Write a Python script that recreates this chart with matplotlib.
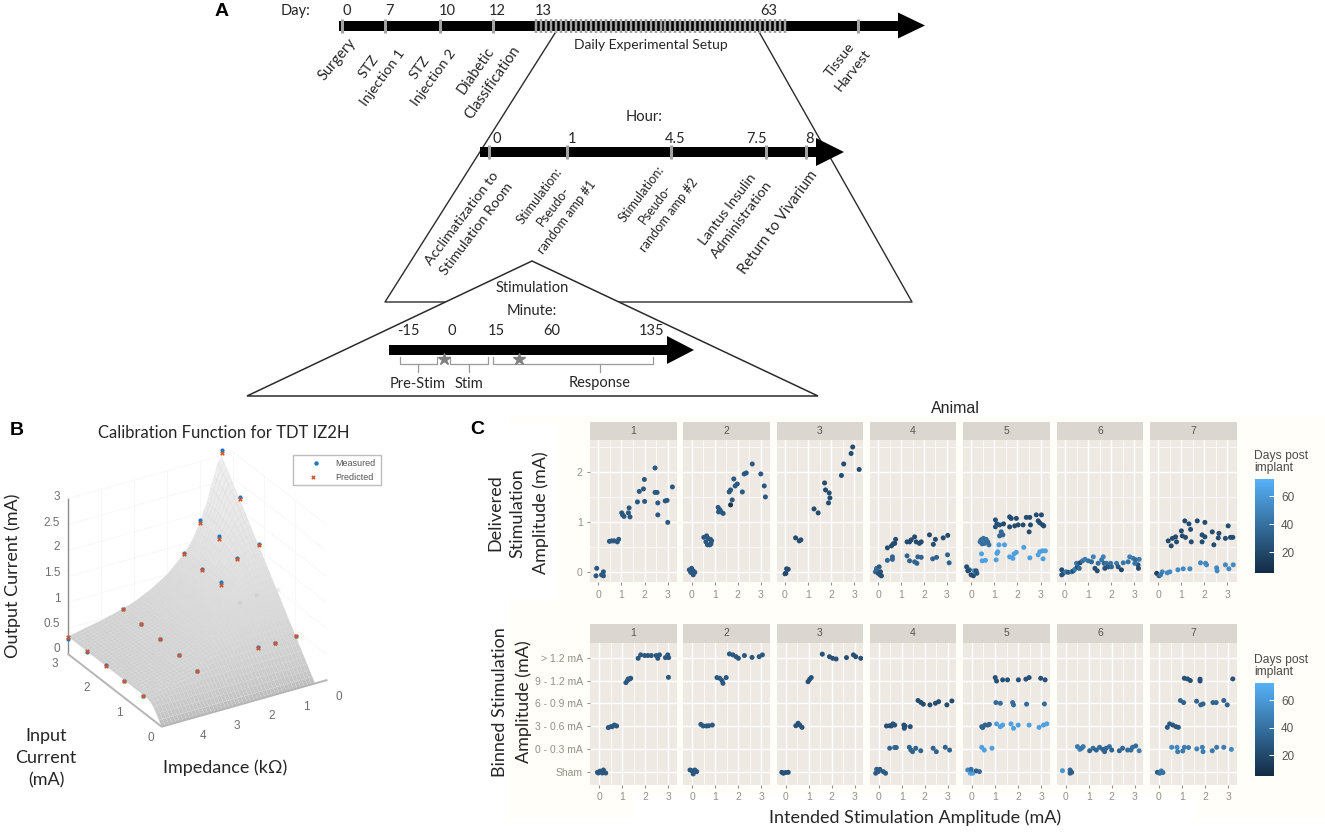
import numpy as np
import matplotlib
matplotlib.use("Agg")
import matplotlib.pyplot as plt
from matplotlib.colors import LinearSegmentedColormap, Normalize
from matplotlib.cm import ScalarMappable
from matplotlib.patches import Rectangle, Polygon
from mpl_toolkits.mplot3d import proj3d

W, H = 1325, 834
FONT = "Lato"
GG = "Liberation Sans"

# ---------- Panel A timeline content ----------
day_labels = ["0", "7", "10", "12", "13", "63"]
hour_labels = ["0", "1", "4.5", "7.5", "8"]
minute_labels = ["-15", "0", "15", "60", "135"]

# ---------- Panel B data ----------
cal_input = [3.0, 2.4, 1.8, 1.2, 0.6]
cal_imp_rows = [0.35, 1.0, 1.5, 3.35, 5.0]
cal_pred_row1 = [3.05, 2.43, 1.83, 1.26, 0.63]
cal_pred_row2 = [1.81, 1.79, 1.68, 1.26, 0.61]
cal_pred_row3 = [1.30, 1.27, 1.27, 1.20, 0.61]
cal_pred_row4 = [0.58, 0.56, 0.55, 0.53, 0.49]
cal_pred_row5 = [0.34, 0.34, 0.34, 0.33, 0.31]
cal_meas_row1 = [3.10, 2.47, 1.85, 1.27, 0.64]
cal_meas_row2 = [1.87, 1.84, 1.70, 1.27, 0.62]
cal_meas_row3 = [1.32, 1.30, 1.32, 1.21, 0.62]
cal_meas_row4 = [0.58, 0.56, 0.55, 0.53, 0.49]
cal_meas_row5 = [0.30, 0.32, 0.35, 0.33, 0.31]
sat_imp = [0.35, 0.5, 0.75, 1.0, 1.25, 1.5, 2.0, 2.5, 3.0, 3.35, 4.0, 4.5, 5.0]
sat_out = [5.0, 3.2, 2.3, 1.85, 1.5, 1.3, 1.0, 0.8, 0.65, 0.58, 0.47, 0.41, 0.34]

# ---------- Panel C: delivered amplitude ----------
t1_x = [-.07,-.1,.14,.22,.22,.48,.58,.68,.82,.88,1.01,1.11,1.05,1.3,1.33,1.37,1.69,1.77,1.95,1.99,2.0,2.45,2.45,2.54,2.57,2.57,2.89,2.97,3.0,3.2]
t1_y = [.08,-.07,-.05,.01,-.07,.62,.63,.63,.61,.66,1.19,1.12,1.15,1.19,1.29,1.11,1.41,1.62,1.67,1.86,1.42,2.09,1.6,1.6,1.15,1.39,1.43,1.44,1.0,1.71]
t1_d = [28]*30
t2_x = [-.1,0,.07,-.04,.14,.07,.53,.65,.72,.82,.62,.87,.69,.84,.79,1.15,1.23,1.17,1.37,1.28,1.63,1.69,1.76,1.69,1.83,1.98,1.89,2.2,2.28,2.37,2.63,3.0,3.15,3.2]
t2_y = [.05,.08,.03,0,0,-.05,.7,.73,.68,.66,.61,.63,.55,.57,.55,1.3,1.25,1.21,1.18,1.21,1.61,1.65,1.45,1.35,1.87,1.77,1.73,1.61,1.97,1.99,2.17,1.97,1.73,1.51]
t2_d = [28]*23 + [10] + [28]*10
t3_x = [.07,.14,.04,0,.46,.62,.69,1.26,1.44,1.72,1.76,1.92,1.95,1.89,2.45,2.55,2.87,2.94,3.22]
t3_y = [.07,.06,-.02,-.03,.69,.63,.65,1.27,1.19,1.79,1.65,1.59,1.49,1.39,1.94,2.17,2.38,2.51,2.06]
t3_d = [22]*19
t4_x = [-.07,.04,-.12,0,.07,-.07,.1,.14,.4,.58,.65,.72,.76,1.26,1.37,1.44,1.59,1.66,1.8,1.88,2.24,2.5,2.41,2.84,3.04,.4,.62,.62,1.26,1.37,1.59,1.69,1.73,1.88,2.38,2.55,3.03,3.1]
t4_y = [.08,.11,.01,-.02,-.05,.05,.01,-.07,.49,.53,.57,.58,.66,.61,.61,.65,.71,.61,.58,.61,.75,.66,.56,.69,.74,.24,.26,.31,.33,.23,.21,.18,.31,.3,.27,.3,.35,.19]
t4_d = [36,28,34,22,28,36,24,22] + [22]*17 + [34]*13
t5_x = [-.19,-.07,-.14,.14,.22,0,.1,.25,.43,.53,.65,.39,.58,.77,.48,.72,1.05,1.11,1.23,1.4,1.05,1.3,1.37,1.23,1.66,1.73,1.95,1.66,1.88,2.03,2.24,2.38,2.53,2.56,2.5,2.81,3.03,2.89,3.08,3.13,2.96,.45,.48,.62,1.08,1.15,1.11,1.2,1.44,1.66,1.8,1.95,1.85,2.27,2.53,2.89,2.96,3.1,3.07,3.2]
t5_y = [.11,.05,.03,.03,.03,-.05,-.07,-.02,.65,.68,.66,.61,.58,.55,.57,.61,1.05,.97,.95,.97,.91,.81,.75,.73,1.11,1.08,1.08,.91,.93,.95,.95,1.1,1.1,.95,.81,1.15,1.15,1.03,.95,.93,.99,.37,.23,.24,.25,.41,.38,.55,.55,.31,.28,.4,.37,.5,.29,.35,.41,.27,.43,.43]
t5_d = [22,32,22,50,28,22,22,28] + [40]*8 + [25,25,25,20,25,36,36,36] + [22]*17 + [64]*19
t6_x = [-.14,-.07,-.14,.04,.14,.29,.36,.43,.53,.62,.5,.65,.76,.87,1.01,1.15,1.23,1.3,1.4,1.44,1.59,1.66,1.7,1.8,1.88,1.98,1.73,2.02,2.24,2.31,2.45,2.53,2.81,2.74,2.96,3.07,3.17,3.19,3.03,3.22]
t6_y = [.05,-.02,-.05,.01,0,.01,.03,.06,.11,.08,.18,.19,.23,.26,.23,.21,.31,.08,.03,.18,.25,.31,.18,.18,.11,.18,.08,.11,.18,.11,.05,.19,.31,.21,.28,.25,.15,.08,.18,.26]
t6_d = [22,36,24,45,28,40,24,45,24,36,42,22,40,45,42,36,48,22,22,40,45,48,36,40,28,42,24,36,45,28,18,42,48,40,45,36,24,22,42,45]
t7_x = [.43,.61,.75,.56,.79,1.0,1.04,1.18,1.15,1.33,1.4,1.43,1.69,2.02,1.9,2.02,1.9,2.34,2.41,2.63,2.6,2.91,3.13,3.23,3.03,-.07,.03,.17,.1,.39,.5,.85,1.08,1.37,1.83,2.05,2.09,2.53,2.55,2.91,3.06,3.25]
t7_y = [.63,.68,.71,.53,.61,.83,.73,.7,1.03,.97,.86,.61,1.03,1.0,.75,.71,.61,.81,.55,.78,.69,.68,.7,.7,.93,-.02,-.07,.01,-.05,-.01,.01,.05,.07,.07,.19,.18,.15,.09,.03,.15,.07,.15]
t7_d = [22]*25 + [15,30,50,45] + [52]*13

# ---------- Panel C: binned amplitude ----------
b1_x = [-.07,.04,.19,-.03,.14,.29,.4,.51,.66,.76,.57,1.16,1.23,1.33,1.37,1.26,1.69,1.8,1.97,2.11,2.26,2.47,2.54,2.61,2.87,2.97,3.01,3.0]
b1_y = [0,.05,.1,-.03,-.03,-.03,1.95,1.99,2.06,2.02,1.99,3.91,4.0,4.07,4.1,4.07,4.97,5.12,5.09,5.09,5.09,5.09,4.97,5.12,5.0,5.12,5.0,4.14]
b1_d = [28]*28
b2_x = [-.1,0,.11,.04,.19,.37,.47,.61,.71,.87,1.07,1.19,1.29,1.33,1.47,1.61,1.76,1.9,2.0,2.26,2.59,2.9,3.04]
b2_y = [.1,.06,.1,-.07,.03,2.09,2.02,2.02,2.03,2.06,4.13,4.1,4.0,3.88,4.13,5.16,5.12,5.04,4.97,5.09,5.01,5.04,5.12]
b2_d = [28]*23
b3_x = [-.17,-.1,0,.11,.44,.54,.61,.71,.97,1.04,1.11,1.59,1.9,2.04,2.19,2.64,2.94,3.04,3.26]
b3_y = [0,-.04,-.01,0,2.03,2.14,2.06,1.96,3.95,4.05,4.13,5.15,5.04,4.97,4.94,5.0,5.12,5.04,4.97]
b3_d = [24]*19
b4_x = [-.14,-.1,.04,.19,.29,-.03,.33,.47,.61,.69,.54,1.09,1.11,1.37,1.14,.47,.69,.76,1.33,1.4,1.47,1.61,1.83,2.37,2.51,2.9,3.09,1.71,1.83,1.94,2.23,2.47,2.61,2.97,3.19]
b4_y = [-.04,.13,.13,.03,-.04,.03,2.02,2.03,2.11,2.06,2.02,2.06,1.92,1.99,2.02,1.05,1.08,1.08,1.09,.97,.9,1.05,.94,1.05,.9,1.09,.97,3.13,3.05,2.97,2.94,3.01,3.08,2.94,3.11]
b4_d = [30]*6 + [24]*9 + [34]*12 + [22]*8
b5_x = [-.17,-.06,.04,.19,.33,-.03,.43,.57,.69,.76,.47,.43,.54,.87,1.07,1.23,1.33,1.69,1.8,2.0,2.47,2.9,3.09,3.23,1.04,1.23,1.76,1.8,2.36,3.13,1.01,1.07,1.33,1.54,2.01,2.33,2.47,2.97,3.16]
b5_y = [.1,-.04,-.04,.06,.03,.13,1.99,2.06,2.06,2.09,1.95,1.09,.97,1.05,2.11,1.99,2.06,2.11,1.92,2.06,2.06,1.96,2.06,2.11,3.04,3.01,3.04,2.94,2.97,2.98,4.13,3.98,4.03,4.03,4.03,4.06,4.13,4.1,4.03]
b5_d = [50,64,64,30,36,40,34,34,34,34,34,64,64,64] + [64]*10 + [38]*6 + [24]*9
b6_x = [-.14,.19,.19,.26,.51,.61,.76,1.04,1.19,1.33,1.47,1.61,1.76,1.9,2.0,2.33,2.47,2.69,2.9,3.04,3.19,.69,1.69,2.83]
b6_y = [.07,.1,-.04,0,1.12,1.0,1.12,.94,1.05,.97,1.09,1.0,1.05,1.12,.97,.94,1.05,.97,1.09,1.15,.94,1.05,.9,.97]
b6_d = [58,35,35,30,44,50,44,34,38,34,38,34,36,40,34,34,36,38,38,38,46,42,34,38]
b7_x = [-.07,.03,.1,.17,.36,.46,.6,.74,.84,.55,.78,.81,1.03,1.1,1.28,1.64,1.88,1.91,2.31,2.5,2.81,3.14,.93,1.07,1.63,1.81,1.91,2.34,2.48,2.81,2.96,1.1,1.24,1.36,1.78,1.78,3.2]
b7_y = [0,-.04,.06,-.01,1.96,2.11,2.06,1.99,1.96,1.09,1.09,.9,.93,1.09,1.08,1.02,1.09,.9,.94,1.09,1.09,1.0,3.13,3.04,3.1,2.94,2.98,3.04,3.04,3.13,2.94,4.1,4.07,4.0,4.06,3.98,4.07]
b7_d = [28,40,45,40] + [28]*5 + [52,52,46,46,46,46,48,48,46,44,44,46,52] + [34]*9 + [24]*6

animals = ["1", "2", "3", "4", "5", "6", "7"]
binned_labels = ["Sham", "0 - 0.3 mA", "3 - 0.6 mA", "6 - 0.9 mA", "9 - 1.2 mA", "> 1.2 mA"]
top_x, top_y, top_d = [t1_x,t2_x,t3_x,t4_x,t5_x,t6_x,t7_x], [t1_y,t2_y,t3_y,t4_y,t5_y,t6_y,t7_y], [t1_d,t2_d,t3_d,t4_d,t5_d,t6_d,t7_d]
bot_x, bot_y, bot_d = [b1_x,b2_x,b3_x,b4_x,b5_x,b6_x,b7_x], [b1_y,b2_y,b3_y,b4_y,b5_y,b6_y,b7_y], [b1_d,b2_d,b3_d,b4_d,b5_d,b6_d,b7_d]

fig = plt.figure(figsize=(W/100, H/100), dpi=100, facecolor="white")

def rect(x0, y0, x1, y1, **kw):
    """axes from pixel box, y measured from the top"""
    return fig.add_axes([x0/W, 1-y1/H, (x1-x0)/W, (y1-y0)/H], **kw)

# ---- background tint behind panel C
bg = fig.add_axes([0, 0, 1, 1], zorder=-5)
bg.set_xlim(0, W); bg.set_ylim(H, 0); bg.axis("off")
CREAM = "#fffef8"
for x0, y0, x1, y1 in [(558, 416, W, 600), (508, 416, 558, 424), (508, 600, W, 612), (508, 612, 540, 790),
                       (540, 612, W, 795), (508, 790, 633, 820), (1198, 790, W, 820)]:
    bg.add_patch(Rectangle((x0, y0), x1-x0, y1-y0, fc=CREAM, ec="none"))

# ---- overlay for diagram and free text
ov = fig.add_axes([0, 0, 1, 1], zorder=10)
ov.set_xlim(0, W); ov.set_ylim(H, 0); ov.axis("off"); ov.patch.set_alpha(0)

def label(x, y, s, size=11, rot=0, color="#262626", family=FONT, **kw):
    ov.text(x, y, s, fontsize=size, rotation=rot, color=color, family=family, ha=kw.pop("ha", "center"),
            va=kw.pop("va", "center"), rotation_mode="anchor", linespacing=kw.pop("ls", 1.05), **kw)

def arrow(x0, x1, xt, y, half, head):
    ov.add_patch(Rectangle((x0, y-half), x1-x0, 2*half, fc="black", ec="none", zorder=3))
    ov.add_patch(Polygon([(x1, y-head), (xt, y), (x1, y+head)], fc="black", ec="none", zorder=3))

def ticks(xs, y, half, width=3.0, color="#a3a3a3"):
    for x in xs:
        ov.plot([x, x], [y-half, y+half], color=color, lw=width*0.72, solid_capstyle="butt", zorder=4)

LINE = "#2b2b2b"
# trapezoid and inner triangle
ov.plot([557, 385, 912, 758], [30, 302, 302, 30], color=LINE, lw=1.0, zorder=1)
ov.add_patch(Polygon([(532, 261), (247, 396), (818, 396)], fc="white", ec=LINE, lw=1.1, zorder=2))

# Day timeline
arrow(339, 898, 925, 25.5, 5, 13)
ticks([342, 385, 440, 493, 858], 25.5, 7)
ticks(np.linspace(536, 785, 51), 25.5, 7, width=2.5)
for x, s in zip([347, 390, 447, 497, 543, 769], day_labels):
    label(x, 11, s, 10.5)
label(296, 11, "Day:", 10.5)
label(651, 45, "Daily Experimental Setup", 10)
label(337.5, 59, "Surgery", 10.5, 50)
label(376, 72, "STZ\nInjection 1", 10.3, 54, ls=1.55)
label(426.5, 72.5, "STZ\nInjection 2", 10.3, 54, ls=1.55)
label(484, 76.5, "Diabetic\nClassification", 10.5, 55, ls=1.55)
label(846, 65, "Tissue\nHarvest", 10.3, 52, ls=1.5)

# Hour timeline
label(644, 117, "Hour:", 10.5)
arrow(480, 816, 844, 152, 5, 14)
ticks([489, 567, 671, 766, 806], 152, 7)
for x, s in zip([497, 572, 675, 757, 809], hour_labels):
    label(x, 139, s, 10.5)
label(469, 223.5, "Acclimatization to\nStimulation Room", 10.3, 53, ls=1.55)
label(553, 206.5, "Stimulation:\nPseudo-\nrandom amp #1", 9.2, 53, ls=1.5)
label(655.5, 204.5, "Stimulation:\nPseudo-\nrandom amp #2", 9.2, 53, ls=1.5)
label(735, 214.5, "Lantus Insulin\nAdministration", 10.3, 53, ls=1.55)
label(778, 222.5, "Return to Vivarium", 10.7, 54)

# Minute timeline
label(532, 288, "Stimulation", 10.5)
label(532, 311, "Minute:", 10.5)
arrow(389, 667, 694, 350, 5, 14)
for x, s in zip([408, 452, 496, 552, 652], minute_labels):
    label(x, 331, s, 10.5)
BR = "#9a9a9a"
for x0, x1, xm in [(400, 437, 418), (450, 488, 469), (493, 653, 600)]:
    ov.plot([x0, x0, x1, x1], [357, 364, 364, 357], color=BR, lw=0.9, zorder=3)
    ov.plot([xm, xm], [364, 372], color=BR, lw=0.9, zorder=3)
for x in [443.5, 518.5]:
    ov.plot([x], [359], marker="*", ms=9, color="#808080", zorder=5, ls="none")
label(418, 384, "Pre-Stim", 10.5)
label(469, 384, "Stim", 10.5)
label(600, 383, "Response", 10.5)

# Panel letters and shared labels
label(222, 11, "A", 14, color="black", family="Liberation Sans", fontweight="bold")
label(17, 430, "B", 14, color="black", family="Liberation Sans", fontweight="bold")
label(477, 429, "C", 14, color="black", family="Liberation Sans", fontweight="bold")
label(224, 433, "Calibration Function for TDT IZ2H", 12)
label(955, 408, "Animal", 11.5, family=GG)
label(915, 818, "Intended Stimulation Amplitude (mA)", 13)
label(518, 513, "Delivered\nStimulation\nAmplitude (mA)", 13, 90, ls=1.5)
label(512, 702, "Binned Stimulation\nAmplitude (mA)", 13, 90, ls=1.5)
label(13, 576, "Output Current (mA)", 13, 90)
label(46, 758, "Input\nCurrent\n(mA)", 13, ls=1.45)
label(225, 768, "Impedance (kΩ)", 13)

# ---- Panel B
ax3 = fig.add_axes([0, 0, 0.34, 0.54], projection="3d", computed_zorder=False, zorder=1)
ax3.patch.set_alpha(0)
ax3.set_axis_off()
ax3.set_proj_type("ortho")
ax3.view_init(elev=27.9, azim=148.9)
ax3.set_xlim(0, 3); ax3.set_ylim(0, 5); ax3.set_zlim(0, 3)
ax3.set_box_aspect((543, 578, 529))

inp = np.linspace(0.001, 3, 36)
imp = np.linspace(sat_imp[0], sat_imp[-1], 44)
II, PP = np.meshgrid(inp, imp)
SS = np.interp(PP, sat_imp, sat_out)
ZZ = (II**-6 + SS**-6)**(-1/6)
shade = 0.75 + 0.19*np.clip(ZZ/3, 0, 1)**0.55
colors = np.dstack([shade, shade, shade, np.ones_like(shade)])
ax3.plot_surface(II, PP, ZZ, facecolors=colors, rstride=1, cstride=1, linewidth=0.2,
                 edgecolor="#d8d8d8", shade=False, antialiased=True, zorder=2)
AXC = "#8c8c8c"
GRID = "#f6f6f6"
for z in [0.5, 1, 1.5, 2, 2.5, 3]:
    ax3.plot([3, 3], [5, 0], [z, z], color=GRID, lw=0.6, zorder=1)
    ax3.plot([3, 0], [0, 0], [z, z], color=GRID, lw=0.6, zorder=1)
for p in [1, 2, 3, 4]:
    ax3.plot([3, 3], [p, p], [0, 3], color=GRID, lw=0.6, zorder=1)
for q in [1, 2]:
    ax3.plot([q, q], [0, 0], [0, 3], color=GRID, lw=0.6, zorder=1)
ax3.plot([3, 3], [0, 0], [0, 3], color=GRID, lw=0.6, zorder=1)
ax3.plot([3, 3], [5, 5], [0, 3], color=AXC, lw=1.0, zorder=3)
ax3.plot([3, 0, 0], [5, 5, 0], [0, 0, 0], color="#b5b5b5", lw=1.4, zorder=3)

pred_rows = [cal_pred_row1, cal_pred_row2, cal_pred_row3, cal_pred_row4, cal_pred_row5]
meas_rows = [cal_meas_row1, cal_meas_row2, cal_meas_row3, cal_meas_row4, cal_meas_row5]
hidden = {(0, 3), (1, 3), (2, 3)}
BLUE, ORANGE = "#1f78c1", "#d4552a"
for r, imp_v in enumerate(cal_imp_rows):
    for c, in_v in enumerate(cal_input):
        a = 0.05 if (r, c) in hidden else 1.0
        ax3.scatter([in_v], [imp_v], [meas_rows[r][c]], s=9, color=BLUE, alpha=a, lw=0, depthshade=False, zorder=5)
        ax3.scatter([in_v], [imp_v], [pred_rows[r][c]], s=11, color=ORANGE, marker="X", alpha=a, lw=0, depthshade=False, zorder=6)

def px3(x, y, z):
    X, Y, _ = proj3d.proj_transform(x, y, z, ax3.get_proj())
    return ax3.transData.transform((X, Y))

near_t = np.array([161.7, H-726.7])
left_t = np.array([68.3, H-654.3])
S = 450.0
ax3.set_position([0, 0, S/W, S/H])
fig.canvas.draw()
a, b = px3(0, 5, 0), px3(3, 5, 0)
S *= np.hypot(*(near_t-left_t))/np.hypot(*(a-b))
ax3.set_position([0, 0, S/W, S/H])
fig.canvas.draw()
a = px3(0, 5, 0)
ax3.set_position([(near_t[0]-a[0])/W, (near_t[1]-a[1])/H, S/W, S/H])

TK = "#6e6e6e"
for x, y, s in zip([57, 52, 57, 52, 57, 52, 57], [497, 523, 547, 573, 599, 624, 649], ["3", "2.5", "2", "1.5", "1", "0.5", "0"]):
    label(x, y, s, 8.5, color=TK, family=GG)
for x, y, s in zip([55, 87, 119, 151], [664, 688, 713, 738], ["3", "2", "1", "0"]):
    label(x, y, s, 8.5, color=TK, family=GG)
for x, y, s in zip([203, 237, 272, 306, 339], [736, 726, 716, 707, 697], ["4", "3", "2", "1", "0"]):
    label(x, y, s, 8.5, color=TK, family=GG)

# legend of panel B
ov.add_patch(Rectangle((293, 455), 88, 30, fc="white", ec="#bdbdbd", lw=1.0, zorder=6))
ov.plot([316], [463], ls="none", marker="o", ms=3.2, color=BLUE, mew=0, zorder=7)
ov.plot([313], [477], ls="none", marker="X", ms=3.2, color=ORANGE, mew=0, zorder=7)
label(355, 463, "Measured", 6.5, color="#555555", family=GG, zorder=7)
label(354, 477, "Predicted", 6.5, color="#555555", family=GG, zorder=7)

# ---- Panel C
cmap = LinearSegmentedColormap.from_list("gg", ["#132B43", "#56B1F7"])
DAY_MIN, DAY_MAX = 5.4, 72.1
norm = Normalize(DAY_MIN, DAY_MAX)
PANEL, STRIP = "#efe9e4", "#dcd6d0"
TICKC = "#978f88"
panel_x = [(590, 677), (683.3, 770), (776.7, 863.3), (870, 956), (962.7, 1050), (1056.7, 1143.3), (1150, 1236.7)]

def facet(i, box, strip_top, xs, ys, ds, ylim, yt, ytl, yminor, xshift):
    x0, x1 = panel_x[i]
    y0, y1 = box
    sp = rect(x0, strip_top, x1, y0, zorder=2)
    sp.set_facecolor(STRIP); sp.set_xticks([]); sp.set_yticks([])
    for s in sp.spines.values():
        s.set_visible(False)
    sp.text(0.5, 0.5, animals[i], transform=sp.transAxes, ha="center", va="center", fontsize=7.5, color="#5a5550", family=GG)
    ax = rect(x0, y0, x1, y1, zorder=2)
    ax.set_facecolor(PANEL)
    ax.set_xlim(-0.36+xshift, 3.4+xshift); ax.set_ylim(*ylim)
    ax.set_xticks([0, 1, 2, 3]); ax.set_xticks([0.5, 1.5, 2.5], minor=True)
    ax.set_yticks(yt); ax.set_yticks(yminor, minor=True)
    ax.grid(True, which="major", color="white", lw=1.0)
    ax.grid(True, which="minor", color="white", lw=0.5)
    ax.set_axisbelow(True)
    for s in ax.spines.values():
        s.set_visible(False)
    ax.tick_params(which="minor", length=0)
    ax.tick_params(axis="both", which="major", length=2.2, width=0.8, color=TICKC, labelcolor=TICKC, labelsize=7.5, pad=3)
    for t in ax.get_xticklabels():
        t.set_family(GG)
    if i == 0:
        ax.set_yticklabels(ytl, family=GG)
    else:
        ax.tick_params(axis="y", left=False, labelleft=False)
    ax.scatter(xs, ys, c=ds, cmap=cmap, norm=norm, s=13, lw=0, zorder=3)
    return ax

for i in range(7):
    facet(i, (440, 582.3), 421.7, top_x[i], top_y[i], top_d[i], (-0.2, 2.65), [0, 1, 2], ["0", "1", "2"], [0.5, 1.5, 2.5], 0)
    facet(i, (642.7, 784.7), 624, bot_x[i], bot_y[i], bot_d[i], (-0.54, 5.65), list(range(6)), binned_labels, [], -0.03)

def cbar(y0, y1, title_y):
    cax = rect(1255, y0, 1274, y1, zorder=2)
    cb = fig.colorbar(ScalarMappable(norm=norm, cmap=cmap), cax=cax, ticks=[20, 40, 60])
    cb.outline.set_visible(False)
    cax.tick_params(direction="in", color="white", length=3.5, width=0.7, labelcolor="#555555", labelsize=8.5, pad=5)
    for t in cax.get_yticklabels():
        t.set_family(GG)
    label(1254, title_y, "Days post\nimplant", 8.7, color="#4a4a4a", family=GG, ha="left", ls=1.0)

cbar(479.3, 572.7, 462)
cbar(683.3, 775.7, 666)

fig.savefig("out.png", dpi=100, facecolor="white")
